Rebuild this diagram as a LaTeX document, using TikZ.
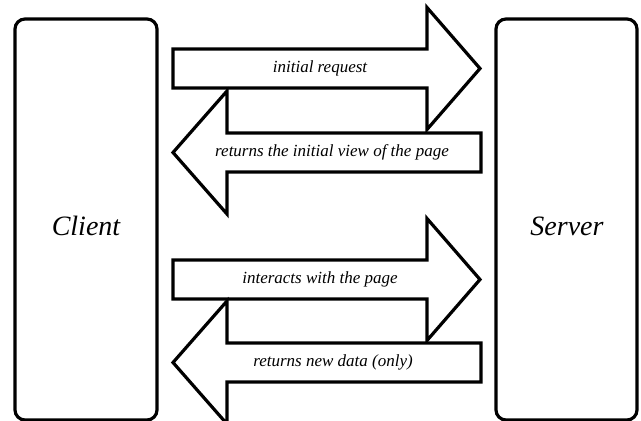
\documentclass[tikz,border=0pt]{standalone}
\usepackage{fontspec}
\setmainfont{Liberation Serif}
\begin{document}
\begin{tikzpicture}[x=1pt,y=-1pt,
  box/.style={draw,line width=3.2pt,rounded corners=10pt,inner sep=0pt},
  blockarrow/.style={draw,line width=3.2pt,line join=miter,fill=white},
  lbl/.style={font=\itshape\fontsize{17}{19}\selectfont,inner sep=0pt},
  big/.style={font=\itshape\fontsize{28}{32}\selectfont,inner sep=0pt}]
\useasboundingbox (0,0) rectangle (641,421);
% boxes
\draw[box] (15,19) rectangle (157,420);
\draw[box] (496,19) rectangle (637,420);
\node[big] (client) at (86,226) {Client};
\node[big] (server) at (567,226) {Server};
% arrow 1 (right)
\draw[blockarrow] (173,49) -- (427,49) -- (427,7.5) -- (480,68.5) -- (427,129.5) -- (427,88) -- (173,88) -- cycle;
% arrow 2 (left)
\draw[blockarrow] (481,133) -- (227,133) -- (227,91) -- (173,152.5) -- (227,214) -- (227,172) -- (481,172) -- cycle;
% arrow 3 (right)
\draw[blockarrow] (173,260) -- (427,260) -- (427,218.5) -- (480,279.5) -- (427,340.5) -- (427,299) -- (173,299) -- cycle;
% arrow 4 (left)
\draw[blockarrow] (481,343) -- (227,343) -- (227,301) -- (173,362.5) -- (227,424) -- (227,382) -- (481,382) -- cycle;
% labels
\node[lbl] (l1) at (320,68.5) {initial request};
\node[lbl] (l2) at (332,152.5) {returns the initial view of the page};
\node[lbl] (l3) at (320,279.5) {interacts with the page};
\node[lbl] (l4) at (333,362.5) {returns new data (only)};
\end{tikzpicture}
\end{document}
